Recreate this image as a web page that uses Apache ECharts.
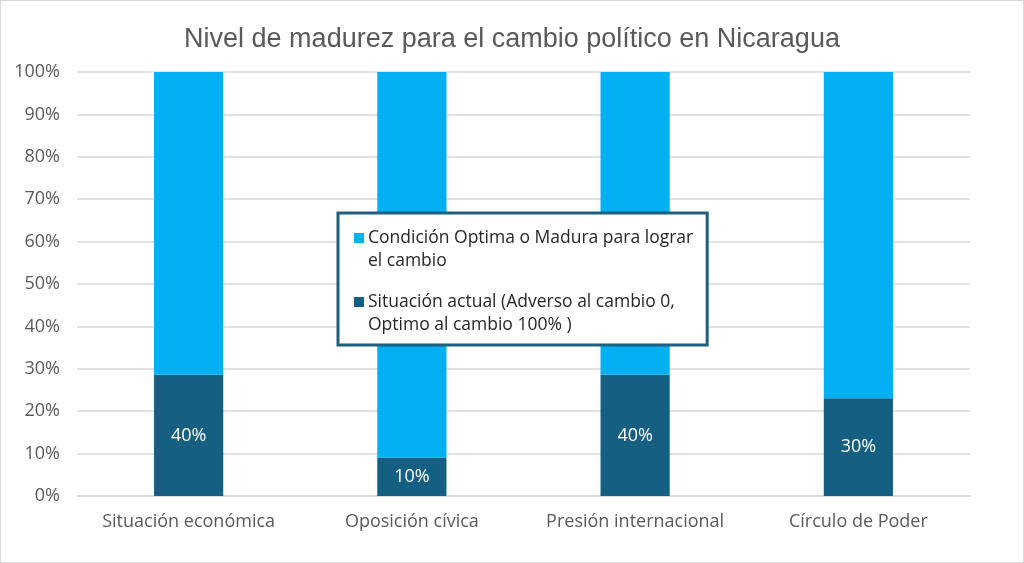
<!DOCTYPE html>
<html>
<head>
<meta charset="utf-8">
<script src="https://cdn.jsdelivr.net/npm/echarts@6/dist/echarts.min.js"></script>
<style>
  html, body { margin: 0; padding: 0; background: #fff; }
  #chart { width: 1022px; height: 561px; border: 1px solid #d9d9d9; }
</style>
</head>
<body>
<div id="chart"></div>
<script>
// datos
const categories = ["Situación económica", "Oposición cívica", "Presión internacional", "Círculo de Poder"];
const actual = [40, 10, 40, 30];       // Situación actual
const optima = [100, 100, 100, 100];   // Condición Optima o Madura
const yTicks = [0, 10, 20, 30, 40, 50, 60, 70, 80, 90, 100];

const nameOptima = "Condición Optima o Madura para lograr el cambio";
const nameActual = "Situación actual (Adverso al cambio 0, Optimo al cambio 100% )";

// apilado al 100%
const totals = actual.map((v, i) => v + optima[i]);
const actualPct = actual.map((v, i) => v / totals[i] * 100);
const optimaPct = optima.map((v, i) => v / totals[i] * 100);

// partir el texto de la leyenda en lineas (max caracteres)
function wrap(txt, max) {
  let lines = [], cur = "";
  txt.split(" ").forEach(w => {
    if (cur && (cur + " " + w).length > max) { lines.push(cur); cur = w; }
    else cur = cur ? cur + " " + w : w;
  });
  lines.push(cur);
  return lines;
}

const sans = "Open Sans, sans-serif";
const chart = echarts.init(document.getElementById("chart"));
chart.setOption({
  animation: false,
  title: {
    text: "Nivel de madurez para el cambio político en Nicaragua",
    left: "center",
    top: 20,
    textStyle: { fontFamily: "Liberation Sans, Arial, sans-serif", fontSize: 27, fontWeight: "normal", color: "#595959" }
  },
  grid: { left: 76, right: 53, top: 71, bottom: 66 },
  legend: {
    orient: "vertical",
    left: 337,
    top: 212,
    width: 372,
    padding: [16, 14, 11, 10],
    itemGap: 23,
    icon: "none",
    itemWidth: 1,
    itemHeight: 10,
    borderColor: "#1f5f7f",
    borderWidth: 3,
    backgroundColor: "#fff",
    data: [nameOptima, nameActual],
    formatter: name => {
      const key = name === nameOptima ? "a" : "b";
      const lines = wrap(name, 38);
      return lines.map((l, i) => (i === 0 ? "{" + key + "|}{s|}" : "{s2|}") + "{t|" + l + "}").join("\n");
    },
    textStyle: {
      rich: {
        a: { width: 10, height: 10, backgroundColor: "#00b0f0" },
        b: { width: 10, height: 10, backgroundColor: "#156082" },
        s: { width: 4 },
        s2: { width: 14 },
        t: { fontFamily: sans, fontSize: 17.5, color: "#262626", lineHeight: 23 }
      }
    }
  },
  xAxis: {
    type: "category",
    data: categories,
    axisTick: { show: false },
    axisLine: { lineStyle: { color: "#d9d9d9", width: 1.5 } },
    axisLabel: { interval: 0, fontFamily: sans, fontSize: 18, color: "#595959", margin: 17 }
  },
  yAxis: {
    type: "value",
    min: yTicks[0],
    max: yTicks[yTicks.length - 1],
    interval: 10,
    axisLabel: { formatter: "{value}%", fontFamily: sans, fontSize: 18, color: "#595959", margin: 17 },
    splitLine: { lineStyle: { color: "#d9d9d9", width: 1.5 } }
  },
  series: [
    {
      name: nameActual,
      type: "bar",
      stack: "total",
      barWidth: "31%",
      itemStyle: { color: "#156082" },
      label: {
        show: true,
        position: "inside",
        color: "#fff",
        fontFamily: sans,
        fontSize: 18,
        formatter: p => actual[p.dataIndex] + "%"
      },
      data: actualPct
    },
    {
      name: nameOptima,
      type: "bar",
      stack: "total",
      barWidth: "31%",
      itemStyle: { color: "#00b0f0" },
      data: optimaPct
    }
  ]
});
</script>
</body>
</html>
